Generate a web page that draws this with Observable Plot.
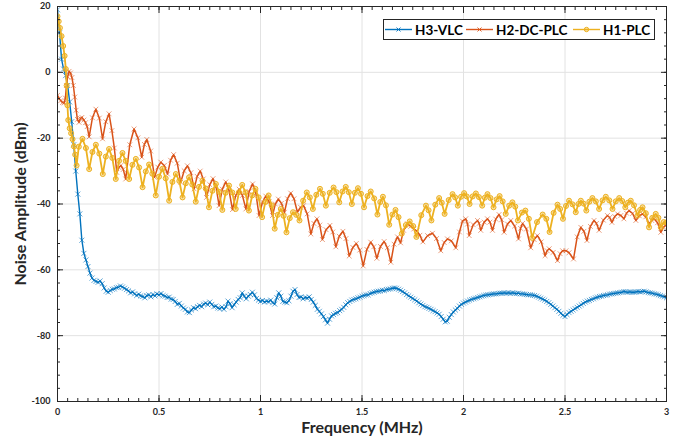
<!DOCTYPE html>
<html><head><meta charset="utf-8">
<script src="https://cdn.jsdelivr.net/npm/d3@7"></script>
<script src="https://cdn.jsdelivr.net/npm/@observablehq/plot@0.6"></script>
<style>
body{margin:0;background:#fff;}
#chart{position:relative;width:689px;height:445px;}
#legend{position:absolute;left:383px;top:19px;}
</style>
</head><body><div id="chart"></div>
<script>
// ---- data ----
const seriesNames = ["H3-VLC", "H2-DC-PLC", "H1-PLC"];
const seriesColors = ["#0072BD", "#D95319", "#EDB120"];
const xTickValues = [0, 0.5, 1, 1.5, 2, 2.5, 3];
const xTickLabels = ["0", "0.5", "1", "1.5", "2", "2.5", "3"];
const yTickValues = [20, 0, -20, -40, -60, -80, -100];
const yTickLabels = ["20", "0", "-20", "-40", "-60", "-80", "-100"];
const xLabel = "Frequency (MHz)";
const yLabel = "Noise Amplitude (dBm)";

// H3-VLC sampled every 0.01 MHz from 0 to 3 MHz
const vlcStep = 0.01;
const vlcAmp = [
19,12,4,1,-1,-4,-9,-15,-22,-30,
-37,-43,-51,-55,-57,-59,-61,-62.5,-63.2,-63.5,
-63.8,-63.4,-64.2,-65.5,-66.5,-66.8,-66.3,-65.9,-65.8,-65.4,
-65.3,-64.9,-65.2,-65.6,-66,-66.4,-67,-66.7,-67.3,-67.8,
-67.4,-67.9,-68.1,-68.5,-67.8,-67.6,-68.2,-67.5,-67.9,-67.3,
-67.6,-67.2,-67.8,-68,-68.4,-68.3,-68.9,-69,-69.6,-70.5,
-70.2,-71,-71.6,-72,-72.8,-73,-72.2,-71.5,-71.8,-71.2,
-70.8,-71.2,-70.4,-70.1,-70.6,-69.8,-70.5,-71.2,-71,-71.6,
-71.8,-71.3,-72,-71.2,-69.5,-70.3,-71.5,-70.6,-69.8,-69,
-68.5,-67,-68,-68.8,-68,-67.5,-66.8,-67.6,-68.7,-69.2,
-69.6,-69.3,-69.8,-69.5,-69.7,-69.2,-70,-70.4,-68.5,-67,
-68,-69.6,-69.8,-70,-69.4,-68,-66.5,-66,-67.5,-68.4,
-68.2,-68.8,-68.4,-68.6,-68.2,-69,-69.8,-70.8,-72,-72.6,
-73.4,-74.2,-75.2,-76.2,-75,-74,-73.6,-73.2,-73,-72.4,
-72,-71.4,-70.6,-70,-69.6,-69.2,-69,-68.8,-68.5,-68.3,
-68,-67.8,-67.6,-67.6,-67.2,-67,-66.8,-66.6,-66.5,-66.4,
-66.2,-66.3,-66,-65.9,-65.8,-65.6,-65.5,-65.6,-65.9,-66.2,
-66.6,-67,-67.5,-67.9,-68.3,-68.7,-69.1,-69.5,-70,-70.4,
-70.8,-71.2,-71.4,-71.7,-72,-72.4,-72.7,-73.1,-73.5,-74.2,
-75,-75.8,-75.6,-74.4,-73.6,-72.8,-72.2,-71.7,-71,-70.5,
-70.1,-69.8,-69.5,-69.2,-69,-68.8,-68.6,-68.4,-68.2,-68,
-67.8,-67.7,-67.6,-67.5,-67.4,-67.3,-67.3,-67.2,-67.1,-67.1,
-67,-67.1,-67,-67.1,-67,-67.1,-67.2,-67.1,-67.3,-67.3,
-67.4,-67.5,-67.6,-67.6,-67.7,-67.8,-68,-68.3,-68.6,-68.9,
-69.2,-69.6,-70,-70.5,-71,-71.5,-72,-72.6,-73.2,-73.8,
-74.2,-73.6,-73,-72.6,-72.2,-71.8,-71.4,-71,-70.6,-70.2,
-69.8,-69.5,-69.3,-69,-68.8,-68.5,-68.3,-68.1,-68,-67.8,
-67.7,-67.6,-67.4,-67.3,-67.2,-67.1,-67,-66.9,-66.8,-66.6,
-66.7,-66.8,-66.7,-66.8,-66.8,-66.7,-66.6,-66.7,-66.6,-66.5,
-66.7,-66.9,-67,-67.1,-67.3,-67.4,-67.6,-67.8,-68,-68.2,
-68.5
];

// H2-DC-PLC [frequency MHz, amplitude dBm]
const dcplcPoints = [
[0,-7],[0.008,-8],[0.016,-8.6],[0.025,-9.2],[0.033,-9.3],[0.039,-7.8],[0.044,-4],[0.05,-1.3],[0.057,0.3],[0.064,-0.2],[0.071,-1.6],[0.078,-4],[0.085,-7.5],[0.092,-11.5],[0.098,-14.3],[0.106,-15.2],[0.113,-14],[0.12,-13.7],[0.13,-14.5],[0.138,-15.3],[0.146,-16.5],[0.156,-19.6],[0.172,-13.8],[0.189,-11.2],[0.206,-13.9],[0.222,-20.2],[0.238,-15],[0.254,-12.6],[0.268,-17.7],[0.28,-23],[0.292,-30.4],[0.302,-28.9],[0.312,-28.3],[0.324,-29.5],[0.336,-32.4],[0.356,-22],[0.377,-17.2],[0.396,-19.9],[0.415,-25.8],[0.428,-21.9],[0.44,-20.4],[0.459,-23.9],[0.478,-31.9],[0.494,-28.8],[0.509,-27.3],[0.526,-28.3],[0.542,-30.9],[0.557,-26.7],[0.572,-25],[0.59,-27.6],[0.607,-33.4],[0.624,-29.9],[0.64,-28.4],[0.657,-30.5],[0.673,-35.4],[0.688,-31.6],[0.703,-30],[0.718,-32.4],[0.734,-38],[0.75,-34.1],[0.766,-32.3],[0.781,-34.8],[0.796,-40.5],[0.812,-35.5],[0.829,-33.3],[0.845,-35.9],[0.862,-41.7],[0.878,-37.4],[0.895,-35.5],[0.911,-37.4],[0.928,-41.5],[0.944,-36.2],[0.961,-33.9],[0.977,-36.7],[0.993,-43.5],[1.01,-39.4],[1.026,-37.6],[1.042,-39.3],[1.059,-43.5],[1.073,-40],[1.088,-38.5],[1.103,-39.8],[1.118,-42.5],[1.133,-38.4],[1.149,-36.7],[1.165,-38.4],[1.182,-42.5],[1.197,-41],[1.212,-40.5],[1.23,-43],[1.248,-49.1],[1.263,-45.9],[1.278,-44.5],[1.292,-46.4],[1.305,-50.8],[1.323,-47.8],[1.342,-46.5],[1.356,-48.5],[1.371,-53],[1.388,-49.8],[1.406,-48.3],[1.421,-50.5],[1.437,-55.8],[1.455,-53.2],[1.472,-52],[1.489,-54],[1.506,-58.8],[1.524,-53.8],[1.543,-51.6],[1.558,-53],[1.573,-56.5],[1.591,-52.9],[1.609,-51.4],[1.625,-53.3],[1.642,-57.7],[1.658,-52.2],[1.675,-50],[1.69,-51.8],[1.705,-48],[1.724,-46],[1.74,-46.8],[1.755,-47.6],[1.77,-48.2],[1.785,-49.5],[1.8,-51.5],[1.823,-49.6],[1.847,-48.9],[1.867,-50.5],[1.888,-54.2],[1.905,-51.7],[1.921,-50.6],[1.94,-51.2],[1.962,-53.3],[1.98,-48.5],[1.995,-45.2],[2.011,-44.5],[2.02,-46.1],[2.028,-49.6],[2.048,-46.3],[2.069,-45],[2.077,-45.9],[2.085,-48],[2.102,-45.5],[2.118,-44.5],[2.13,-45.5],[2.143,-48],[2.159,-44.6],[2.175,-43.2],[2.188,-44.8],[2.2,-48.6],[2.217,-46.1],[2.233,-45],[2.252,-46.7],[2.271,-50.6],[2.281,-47.4],[2.291,-45.9],[2.31,-47.6],[2.331,-53.3],[2.348,-50.8],[2.364,-49.6],[2.383,-51.5],[2.402,-55.7],[2.412,-54.2],[2.422,-53.6],[2.442,-54.7],[2.463,-57.2],[2.476,-55.1],[2.488,-54.2],[2.505,-54.2],[2.52,-54.8],[2.542,-56.7],[2.56,-50],[2.578,-47.1],[2.593,-48.3],[2.608,-51.1],[2.625,-46.8],[2.643,-45],[2.655,-45.9],[2.668,-48],[2.689,-44.9],[2.709,-43.5],[2.72,-44.1],[2.731,-45.6],[2.745,-43.8],[2.759,-43],[2.775,-43.5],[2.79,-44.5],[2.803,-42.8],[2.816,-42],[2.833,-42.9],[2.849,-45],[2.866,-43.6],[2.882,-43],[2.898,-43.9],[2.914,-46],[2.927,-45],[2.939,-44.5],[2.956,-45.7],[2.972,-48.6],[2.985,-47],[2.995,-46.6]
];

// H1-PLC [frequency MHz, amplitude dBm]
const plcPoints = [
[0,17],[0.006,15.5],[0.012,13.5],[0.02,11],[0.028,8],[0.035,5],[0.041,1],[0.045,-4],[0.049,-10],[0.053,-14.5],[0.06,-17],[0.067,-18.5],[0.074,-20.3],[0.081,-22.5],[0.087,-25],[0.094,-28.3],[0.105,-22.6],[0.123,-20.2],[0.14,-23],[0.156,-29.4],[0.172,-24.2],[0.189,-22],[0.206,-24.7],[0.223,-30.9],[0.238,-25.6],[0.254,-23.3],[0.27,-26],[0.287,-32.4],[0.303,-26.9],[0.32,-24.5],[0.336,-26.9],[0.353,-32.4],[0.369,-28.1],[0.386,-26.3],[0.402,-28.9],[0.419,-34.9],[0.435,-30.1],[0.451,-28],[0.467,-30.8],[0.484,-37.4],[0.5,-31.7],[0.517,-29.3],[0.533,-32.2],[0.55,-39],[0.566,-33.3],[0.583,-30.9],[0.6,-33],[0.616,-38],[0.632,-33.7],[0.648,-31.9],[0.664,-34.1],[0.681,-39.3],[0.697,-34.8],[0.714,-32.9],[0.73,-35.3],[0.746,-41],[0.763,-36],[0.78,-33.9],[0.796,-36.3],[0.812,-41.8],[0.828,-36.6],[0.845,-34.4],[0.861,-36.5],[0.878,-41.5],[0.894,-36.4],[0.91,-34.2],[0.926,-36.5],[0.943,-42],[0.959,-37.4],[0.975,-35.4],[0.991,-38],[1.008,-44],[1.024,-39.4],[1.04,-37.4],[1.055,-40.4],[1.07,-47.5],[1.085,-43.3],[1.1,-41.5],[1.114,-43.6],[1.128,-48.6],[1.144,-44.3],[1.16,-42.5],[1.176,-43.3],[1.192,-45],[1.21,-39],[1.228,-36.5],[1.243,-38],[1.258,-41.5],[1.275,-37.2],[1.293,-35.4],[1.307,-36.9],[1.322,-40.5],[1.341,-36.6],[1.36,-35],[1.374,-36.4],[1.388,-39.5],[1.404,-36.2],[1.42,-34.8],[1.435,-36.4],[1.45,-40],[1.465,-36.6],[1.48,-35.2],[1.495,-36.9],[1.51,-41],[1.527,-37.6],[1.543,-36.2],[1.56,-38.3],[1.576,-43.2],[1.59,-39.4],[1.603,-37.8],[1.618,-40.4],[1.634,-46.3],[1.65,-43.2],[1.665,-41.8],[1.68,-44],[1.696,-49],[1.716,-46.4],[1.735,-45.3],[1.752,-46.7],[1.768,-50],[1.792,-43.4],[1.815,-40.5],[1.828,-41.9],[1.842,-45],[1.861,-40.2],[1.88,-38.2],[1.893,-39.6],[1.907,-43],[1.927,-38.8],[1.946,-37],[1.959,-38],[1.972,-40.5],[1.988,-37.8],[2.003,-36.7],[2.016,-37.7],[2.03,-40],[2.045,-37.7],[2.061,-36.8],[2.076,-37.9],[2.092,-40.5],[2.105,-38.1],[2.118,-37],[2.133,-38.2],[2.148,-41],[2.163,-38.6],[2.178,-37.6],[2.193,-39.2],[2.208,-43],[2.225,-40.5],[2.241,-39.5],[2.255,-40.8],[2.268,-45],[2.288,-42.6],[2.305,-42],[2.322,-44.5],[2.338,-50.3],[2.362,-45.5],[2.39,-43.2],[2.408,-44.5],[2.424,-48.5],[2.444,-42.7],[2.463,-40.2],[2.476,-41.5],[2.49,-44.5],[2.505,-40.6],[2.52,-39],[2.537,-40.1],[2.553,-42.5],[2.566,-40],[2.578,-39],[2.592,-39.9],[2.605,-42],[2.62,-39.3],[2.635,-38.2],[2.652,-39.2],[2.668,-41.5],[2.685,-38.9],[2.701,-37.8],[2.718,-38.9],[2.734,-41.5],[2.75,-39.2],[2.767,-38.2],[2.782,-39.1],[2.797,-41],[2.81,-39.6],[2.824,-39],[2.84,-40.4],[2.857,-43.5],[2.87,-41.8],[2.882,-41],[2.898,-42.8],[2.914,-47.1],[2.93,-44.2],[2.947,-43],[2.96,-44.2],[2.972,-47.1],[2.986,-45.5],[3,-45.6]
];

// ---- build tables ----
const vlcData = vlcAmp.map((v, i) => ({f: Math.round(i * vlcStep * 100) / 100, v}));
const dcplcData = dcplcPoints.map(([f, v]) => ({f, v}));
const plcData = plcPoints.map(([f, v]) => ({f, v}));
const xMinor = d3.range(0, 3.0001, 0.05);
const yMinor = d3.range(-100, 20.0001, 4);
const axisColor = "#262626";

const plot = Plot.plot({
  width: 689, height: 445,
  marginLeft: 57, marginRight: 23, marginTop: 6, marginBottom: 44,
  style: {fontFamily: "Lato, sans-serif", fontWeight: "bold", fontSize: "9px", color: axisColor, background: "#fff"},
  x: {domain: [0, 3]},
  y: {domain: [-100, 20]},
  marks: [
    Plot.gridX(xTickValues.slice(1, -1), {stroke: "#e2e2e2", strokeOpacity: 1, strokeWidth: 1}),
    Plot.gridY(yTickValues.slice(1, -1), {stroke: "#e2e2e2", strokeOpacity: 1, strokeWidth: 1}),

    Plot.line(vlcData, {x: "f", y: "v", stroke: seriesColors[0], strokeWidth: 1.4, clip: true}),
    Plot.dot(vlcData, {x: "f", y: "v", symbol: "times", r: 2.4, stroke: seriesColors[0], strokeOpacity: 0.8, strokeWidth: 0.8, clip: true}),

    Plot.line(dcplcData, {x: "f", y: "v", stroke: seriesColors[1], strokeWidth: 1.5, clip: true}),
    Plot.dot(dcplcData, {x: "f", y: "v", symbol: "times", r: 2.3, stroke: seriesColors[1], strokeOpacity: 0.7, strokeWidth: 0.8, clip: true}),

    Plot.line(plcData, {x: "f", y: "v", stroke: seriesColors[2], strokeWidth: 1.8, clip: true}),
    Plot.dot(plcData, {x: "f", y: "v", r: 2.5, stroke: seriesColors[2], fill: seriesColors[2], fillOpacity: 0.4, strokeWidth: 1, clip: true}),

    Plot.frame({stroke: axisColor, strokeWidth: 1}),

    Plot.axisX(xTickValues, {anchor: "bottom", tickSize: 0, tickPadding: 7, tickFormat: (d, i) => xTickLabels[i], label: null, fill: axisColor}),
    Plot.axisY(yTickValues, {anchor: "left", tickSize: 0, tickPadding: 7, tickFormat: (d, i) => yTickLabels[i], label: null, fill: axisColor}),

    Plot.axisX(xMinor, {anchor: "bottom", tickSize: -3, tickFormat: () => "", label: null, stroke: axisColor}),
    Plot.axisX(xMinor, {anchor: "top", tickSize: -3, tickFormat: () => "", label: null, stroke: axisColor}),
    Plot.axisX(xTickValues, {anchor: "bottom", tickSize: -6, tickFormat: () => "", label: null, stroke: axisColor}),
    Plot.axisX(xTickValues, {anchor: "top", tickSize: -6, tickFormat: () => "", label: null, stroke: axisColor}),
    Plot.axisY(yMinor, {anchor: "left", tickSize: -3, tickFormat: () => "", label: null, stroke: axisColor}),
    Plot.axisY(yMinor, {anchor: "right", tickSize: -3, tickFormat: () => "", label: null, stroke: axisColor}),
    Plot.axisY(yTickValues, {anchor: "left", tickSize: -6, tickFormat: () => "", label: null, stroke: axisColor}),
    Plot.axisY(yTickValues, {anchor: "right", tickSize: -6, tickFormat: () => "", label: null, stroke: axisColor}),

    Plot.text([xLabel], {frameAnchor: "bottom", textAnchor: "middle", dy: 31.5, fontSize: 16, fontWeight: "bold", fill: axisColor}),
    Plot.text([yLabel], {frameAnchor: "left", textAnchor: "middle", rotate: -90, dx: -37, dy: 0, fontSize: 16, fontWeight: "bold", fill: axisColor})
  ]
});

const chart = document.getElementById("chart");
chart.appendChild(plot);

// ---- legend (inside the axes, top right) ----
const lg = d3.select(chart).append("svg").attr("id", "legend")
  .attr("width", 273).attr("height", 22)
  .style("font-family", "Lato, sans-serif").style("font-weight", "bold");
lg.append("rect").attr("x", 0.5).attr("y", 0.5).attr("width", 271).attr("height", 20)
  .attr("fill", "#fff").attr("stroke", axisColor).attr("stroke-width", 1);
const sampleStart = [2, 83, 190];
const sampleLen = 27;
const textStart = [32, 113, 220];
seriesNames.forEach((name, i) => {
  const g = lg.append("g");
  const x0 = sampleStart[i], xc = x0 + sampleLen / 2;
  g.append("line").attr("x1", x0).attr("x2", x0 + sampleLen).attr("y1", 10.5).attr("y2", 10.5)
    .attr("stroke", seriesColors[i]).attr("stroke-width", 1.4);
  if (i < 2) {
    g.append("path").attr("d", `M${xc-2},8.5L${xc+2},12.5M${xc-2},12.5L${xc+2},8.5`)
      .attr("stroke", seriesColors[i]).attr("stroke-width", 0.9).attr("fill", "none");
  } else {
    g.append("circle").attr("cx", xc).attr("cy", 10.5).attr("r", 2.2)
      .attr("stroke", seriesColors[i]).attr("fill", seriesColors[i]).attr("fill-opacity", 0.4);
  }
  g.append("text").attr("x", textStart[i]).attr("y", 15.5).attr("font-size", 13.5)
    .attr("fill", "#000").text(name);
});
</script>
</body></html>
